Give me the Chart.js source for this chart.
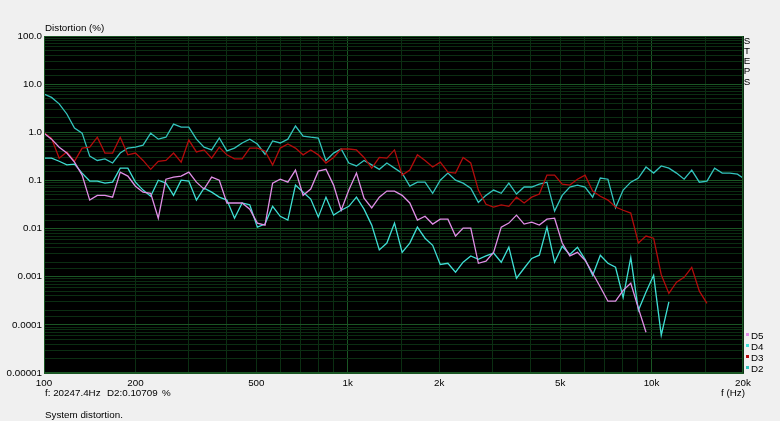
<!DOCTYPE html>
<html>
<head>
<meta charset="utf-8">
<title>System distortion</title>
<script src="https://cdn.jsdelivr.net/npm/chart.js@4/dist/chart.umd.min.js"></script>
<style>
  html, body { margin: 0; padding: 0; background: #f0f0f0; }
</style>
</head>
<body>
<canvas id="myChart" width="780" height="421"></canvas>
<script>
// Frecuencias (Hz), paso de 1/12 de octava
const freqs = [100, 105.9, 112.2, 118.9, 126, 133.5, 141.4, 149.8, 158.7, 168.2,
  178.2, 188.8, 200, 211.9, 224.5, 237.8, 252, 267, 282.8, 299.7,
  317.5, 336.4, 356.4, 377.6, 400, 423.8, 449, 475.7, 504, 534,
  565.7, 599.3, 635, 672.7, 712.7, 755.1, 800, 847.6, 898, 951.4,
  1008, 1068, 1131, 1199, 1270, 1345, 1425, 1510, 1600, 1695,
  1796, 1903, 2016, 2136, 2263, 2397, 2540, 2691, 2851, 3020,
  3200, 3390, 3592, 3806, 4032, 4271, 4525, 4795, 5080, 5382,
  5702, 6041, 6400, 6781, 7184, 7611, 8063, 8543, 9051, 9589,
  10159, 10763, 11404, 12082, 12800, 13561, 14368, 15222, 16127, 17086,
  18102, 19178, 20247];

// Distorsión (%) de cada armónico
const d2 = [6.2, 5.3, 3.9, 2.4, 1.22, 0.96, 0.32, 0.26, 0.28, 0.23,
  0.37, 0.47, 0.49, 0.54, 0.96, 0.72, 0.79, 1.48, 1.28, 1.28,
  0.72, 0.49, 0.43, 0.76, 0.41, 0.47, 0.60, 0.72, 0.57, 0.35,
  0.66, 0.60, 0.72, 1.35, 0.83, 0.79, 0.76, 0.26, 0.37, 0.45,
  0.23, 0.20, 0.26, 0.21, 0.17, 0.23, 0.18, 0.142, 0.076, 0.092,
  0.092, 0.054, 0.101, 0.142, 0.101, 0.088, 0.069, 0.035, 0.049, 0.063,
  0.054, 0.088, 0.052, 0.073, 0.073, 0.084, 0.092, 0.023, 0.049, 0.073,
  0.080, 0.073, 0.045, 0.112, 0.106, 0.027, 0.063, 0.092, 0.112, 0.19,
  0.142, 0.20, 0.18, 0.142, 0.106, 0.164, 0.092, 0.097, 0.18, 0.142,
  0.142, 0.135, 0.107];

const d3 = [0.98, 0.75, 0.29, 0.39, 0.25, 0.47, 0.49, 0.79, 0.37, 0.37,
  0.79, 0.34, 0.37, 0.26, 0.17, 0.25, 0.26, 0.37, 0.24, 0.69,
  0.39, 0.43, 0.29, 0.49, 0.34, 0.28, 0.28, 0.47, 0.47, 0.41,
  0.21, 0.47, 0.57, 0.47, 0.34, 0.43, 0.34, 0.23, 0.30, 0.45,
  0.45, 0.43, 0.30, 0.18, 0.30, 0.29, 0.43, 0.129, 0.164, 0.34,
  0.26, 0.19, 0.24, 0.149, 0.142, 0.30, 0.23, 0.063, 0.032, 0.028,
  0.031, 0.029, 0.045, 0.034, 0.045, 0.052, 0.129, 0.129, 0.084, 0.080,
  0.106, 0.129, 0.060, 0.047, 0.039, 0.028, 0.024, 0.021, 0.0050, 0.0070,
  0.0063, 0.0011, 0.00045, 0.00077, 0.00097, 0.00157, 0.00050, 0.00028];

const d4 = [0.29, 0.29, 0.25, 0.21, 0.218, 0.142, 0.097, 0.097, 0.088, 0.092,
  0.18, 0.18, 0.092, 0.063, 0.047, 0.101, 0.088, 0.049, 0.101, 0.097,
  0.039, 0.069, 0.057, 0.045, 0.039, 0.0164, 0.034, 0.031, 0.0107, 0.0124,
  0.029, 0.018, 0.015, 0.080, 0.057, 0.041, 0.0173, 0.045, 0.019, 0.024,
  0.029, 0.045, 0.0253, 0.0118, 0.0036, 0.0050, 0.0130, 0.0032, 0.0050, 0.0107,
  0.0063, 0.0045, 0.0018, 0.0019, 0.00124, 0.0020, 0.0027, 0.0023, 0.0027, 0.0031,
  0.0020, 0.0041, 0.00093, 0.0015, 0.0024, 0.0028, 0.0107, 0.0020, 0.0043, 0.0029,
  0.0041, 0.0023, 0.00107, 0.0028, 0.0019, 0.00157, 0.00037, 0.0025, 0.00020, 0.00048,
  0.00107, 0.000061, 0.00030];

const d5 = [0.96, 0.72, 0.49, 0.37, 0.24, 0.129, 0.039, 0.049, 0.049, 0.045,
  0.149, 0.123, 0.076, 0.057, 0.054, 0.0164, 0.106, 0.117, 0.123, 0.149,
  0.092, 0.066, 0.117, 0.101, 0.034, 0.034, 0.034, 0.0253, 0.0130, 0.0118,
  0.088, 0.106, 0.092, 0.164, 0.049, 0.066, 0.156, 0.17, 0.080, 0.024,
  0.063, 0.142, 0.043, 0.027, 0.045, 0.060, 0.060, 0.049, 0.034, 0.015,
  0.018, 0.0124, 0.0157, 0.0157, 0.0070, 0.0102, 0.0102, 0.0019, 0.0021, 0.0032,
  0.0107, 0.0130, 0.019, 0.0124, 0.0136, 0.0118, 0.0157, 0.0164, 0.0050, 0.0027,
  0.0032, 0.0022, 0.00118, 0.00061, 0.00031, 0.00031, 0.00052, 0.00073, 0.00022, 0.00007];

// Etiquetas de los ejes
const xTickValues = [100, 200, 500, 1000, 2000, 5000, 10000, 20000];
const xTickLabels = ["100", "200", "500", "1k", "2k", "5k", "10k", "20k"];
const yTickValues = [100, 10, 1, 0.1, 0.01, 0.001, 0.0001, 0.00001];
const yTickLabels = ["100.0", "10.0", "1.0", "0.1", "0.01", "0.001", "0.0001", "0.00001"];

const seriesNames = ["D5", "D4", "D3", "D2"];
const seriesColors = ["#e08ee6", "#3fded4", "#b30c0c", "#33c4bd"];

const FONT = "'Liberation Sans', Arial, sans-serif";
const gridMinor = "rgb(11, 46, 18)";
const gridMajor = "rgb(26, 86, 36)";

const toPoints = (values) => values.map((v, i) => ({ x: freqs[i], y: v }));

const findLabel = (values, labels, value) => {
  const k = values.findIndex((v) => Math.abs(v - value) / v < 1e-6);
  return k >= 0 ? labels[k] : "";
};

const isDecade = (value) => {
  const e = Math.log10(value);
  return Math.abs(e - Math.round(e)) < 1e-6;
};

// Textos fuera del área del gráfico
const textosExtra = {
  id: "textosExtra",
  beforeDraw(chart) {
    const { ctx, chartArea } = chart;
    ctx.save();
    ctx.fillStyle = "#f0f0f0";
    ctx.fillRect(0, 0, chart.width, chart.height);
    ctx.fillStyle = "#000";
    ctx.fillRect(chartArea.left, chartArea.top, chartArea.right - chartArea.left, chartArea.bottom - chartArea.top);
    ctx.restore();
  },
  afterDraw(chart) {
    const { ctx, chartArea } = chart;
    ctx.save();
    ctx.strokeStyle = gridMajor;
    ctx.lineWidth = 1;
    ctx.strokeRect(chartArea.left + 0.5, chartArea.top + 0.5, chartArea.right - chartArea.left - 1, chartArea.bottom - chartArea.top - 1);

    ctx.fillStyle = "#000";
    ctx.font = "9.8px " + FONT;
    ctx.textBaseline = "middle";
    ctx.textAlign = "left";
    ctx.fillText("Distortion (%)", 45, 28);
    ctx.fillText("f: 20247.4Hz", 45, 393);
    ctx.fillText("D2:0.10709", 107, 393);
    ctx.fillText("%", 162, 393);
    ctx.fillText("System distortion.", 45, 415);
    ctx.fillText("f (Hz)", 721, 393);

    // STEPS en vertical
    ctx.textAlign = "center";
    "STEPS".split("").forEach((letra, i) => {
      ctx.fillText(letra, 747, 41 + i * 10.2);
    });

    // Leyenda
    ctx.textAlign = "left";
    seriesNames.forEach((nombre, i) => {
      const y = 335 + i * 11;
      ctx.fillStyle = seriesColors[i];
      ctx.fillRect(746, y - 2, 3, 3);
      ctx.fillStyle = "#000";
      ctx.fillText(nombre, 751, y + 1);
    });
    ctx.restore();
  },
};

const series = [d5, d4, d3, d2];

new Chart(document.getElementById("myChart"), {
  type: "scatter",
  data: {
    datasets: series.map((valores, i) => ({
      label: seriesNames[i],
      data: toPoints(valores),
      showLine: true,
      borderColor: seriesColors[i],
      borderWidth: 1.3,
      pointRadius: 0,
      fill: false,
    })),
  },
  options: {
    responsive: false,
    animation: false,
    layout: { padding: { top: 36, right: 37, left: 0, bottom: 0 } },
    plugins: {
      legend: { display: false },
      tooltip: { enabled: false },
    },
    scales: {
      x: {
        type: "logarithmic",
        min: 100,
        max: 20000,
        afterFit: (scale) => { scale.height = 48; },
        grid: {
          drawTicks: false,
          color: (c) => (c.tick && isDecade(c.tick.value) ? gridMajor : gridMinor),
        },
        border: { color: gridMajor },
        ticks: {
          autoSkip: false,
          maxRotation: 0,
          padding: 4,
          color: "#000",
          font: { family: FONT, size: 9.8 },
          callback: (value) => findLabel(xTickValues, xTickLabels, value),
        },
      },
      y: {
        type: "logarithmic",
        min: 0.00001,
        max: 100,
        afterFit: (scale) => { scale.width = 44; },
        grid: {
          drawTicks: false,
          color: (c) => (c.tick && isDecade(c.tick.value) ? gridMajor : gridMinor),
        },
        border: { color: gridMajor },
        ticks: {
          autoSkip: false,
          padding: 2,
          color: "#000",
          font: { family: FONT, size: 9.8 },
          callback: (value) => findLabel(yTickValues, yTickLabels, value),
        },
      },
    },
  },
  plugins: [textosExtra],
});
</script>
</body>
</html>
